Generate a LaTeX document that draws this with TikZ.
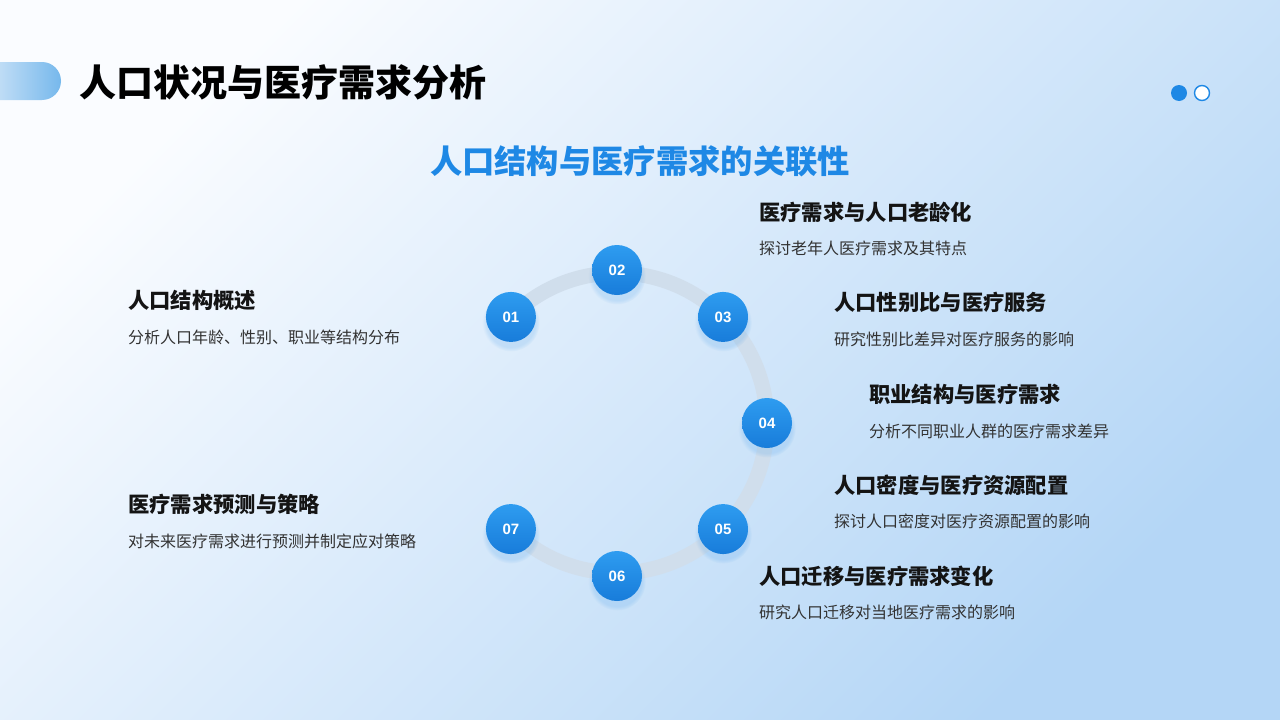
\documentclass[tikz,border=0pt]{standalone}
\usepackage{fontspec}
\setmainfont{Noto Sans CJK SC}
\newfontfamily\numfont{Liberation Sans}
\usetikzlibrary{shadows,calc}
\definecolor{bgA}{RGB}{250,252,255}
\definecolor{bgB}{RGB}{180,214,246}
\definecolor{ringc}{RGB}{208,222,236}
\definecolor{nodeTop}{RGB}{46,156,240}
\definecolor{nodeBot}{RGB}{24,124,218}
\definecolor{accent}{RGB}{30,136,229}
\definecolor{headc}{RGB}{20,20,20}
\definecolor{descc}{RGB}{50,50,50}
\definecolor{tabA}{RGB}{226,238,250}
\definecolor{tabB}{RGB}{118,184,236}
\tikzset{
  numnode/.style={circle, minimum size=50pt, inner sep=0pt, top color=nodeTop, bottom color=nodeBot,
    text=white, font=\numfont\bfseries\fontsize{15}{15}\selectfont,
    circular drop shadow={shadow xshift=0pt, shadow yshift=-5pt, shadow scale=1.15, opacity=0.15, fill=accent}},
  headtxt/.style={anchor=west, inner sep=0pt, text=headc, font=\bfseries\fontsize{21.3}{24}\selectfont},
  desctxt/.style={anchor=west, inner sep=0pt, text=descc, font=\fontsize{16}{18}\selectfont},
  ringline/.style={draw=ringc, line width=15pt}
}
\begin{document}
\begin{tikzpicture}[x=1pt,y=-1pt]
\useasboundingbox (0,0) rectangle (1280,720);
% background
\shade[left color=bgA, right color=bgB, shading angle=45] (0,0) rectangle (1280,720);
% tab
\shade[left color=tabA, right color=tabB, rounded corners=19pt] (-30,62) rectangle (61,100);
% title
\node[anchor=west, inner sep=0pt, text=black, font=\bfseries\fontsize{37}{40}\selectfont] (title) at (79,82) {人口状况与医疗需求分析};
% page dots
\node[circle, fill=accent, minimum size=16pt, inner sep=0pt] (dot1) at (1179,93) {};
\node[circle, fill=white, draw=accent, line width=1.4pt, minimum size=15pt, inner sep=0pt] (dot2) at (1202,93) {};
% subtitle
\node[inner sep=0pt, text=accent, font=\bfseries\fontsize{32.3}{36}\selectfont] (sub) at (640,161) {人口结构与医疗需求的关联性};
% ring
\coordinate (c) at (617,423);
\coordinate (p1) at ($(c)+(225:150)$);
\draw[ringline] (p1) arc[start angle=225, end angle=495, radius=150];
% nodes
\node[numnode] (n1) at ($(c)+(225:150)$) {01};
\node[numnode] (n2) at ($(c)+(270:153)$) {02};
\node[numnode] (n3) at ($(c)+(315:150)$) {03};
\node[numnode] (n4) at ($(c)+(360:150)$) {04};
\node[numnode] (n5) at ($(c)+(45:150)$) {05};
\node[numnode] (n6) at ($(c)+(90:153)$) {06};
\node[numnode] (n7) at ($(c)+(135:150)$) {07};
% texts
\node[headtxt] (h2) at (759,212) {医疗需求与人口老龄化};
\node[desctxt] (d2) at (759,248) {探讨老年人医疗需求及其特点};
\node[headtxt] (h1) at (128,300) {人口结构概述};
\node[desctxt] (d1) at (128,337) {分析人口年龄、性别、职业等结构分布};
\node[headtxt] (h3) at (834,302) {人口性别比与医疗服务};
\node[desctxt] (d3) at (834,339) {研究性别比差异对医疗服务的影响};
\node[headtxt] (h4) at (869,394) {职业结构与医疗需求};
\node[desctxt] (d4) at (869,431) {分析不同职业人群的医疗需求差异};
\node[headtxt] (h5) at (834,485) {人口密度与医疗资源配置};
\node[desctxt] (d5) at (834,521) {探讨人口密度对医疗资源配置的影响};
\node[headtxt] (h7) at (128,504) {医疗需求预测与策略};
\node[desctxt] (d7) at (128,541) {对未来医疗需求进行预测并制定应对策略};
\node[headtxt] (h6) at (759,576) {人口迁移与医疗需求变化};
\node[desctxt] (d6) at (759,612) {研究人口迁移对当地医疗需求的影响};
\end{tikzpicture}
\end{document}
